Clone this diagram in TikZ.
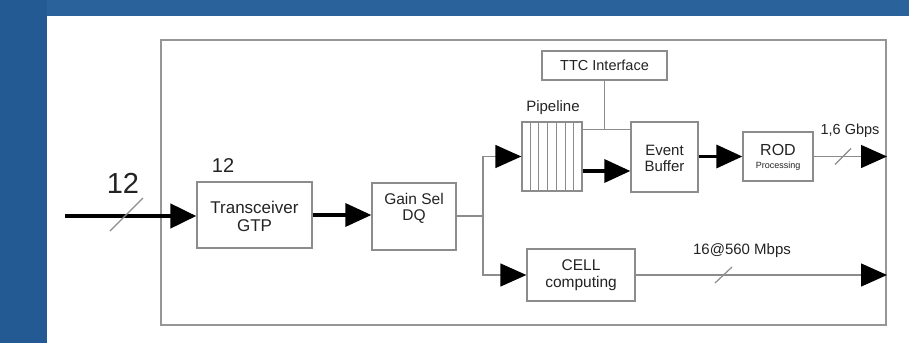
\documentclass[tikz,border=0pt]{standalone}
\usepackage{fontspec}
\setmainfont{Liberation Sans}
\usetikzlibrary{arrows.meta,calc}
\definecolor{bgblue}{RGB}{36,90,148}
\definecolor{bgtop}{RGB}{42,98,156}
\definecolor{linegray}{RGB}{140,140,140}
\definecolor{framegray}{RGB}{150,150,150}
\definecolor{txt}{RGB}{35,35,35}
\newcommand{\fs}[1]{\fontsize{#1}{#1}\selectfont}
\begin{document}
\begin{tikzpicture}[x=1pt,y=-1pt,
  box/.style={draw=linegray, line width=1.3pt, fill=white, inner sep=0pt},
  lbl/.style={text=txt, align=center, inner sep=0pt},
  thinln/.style={draw=linegray, line width=1.3pt},
  thickln/.style={draw=black, line width=3.5pt},
  head/.style={-{Triangle[length=26pt,width=23pt,color=black]}},
  slash/.style={draw=linegray, line width=1.2pt}]
\useasboundingbox (0,0) rectangle (909,343);
% background
\fill[bgblue] (0,0) rectangle (909,343);
\fill[bgtop] (47,0) rectangle (909,16);
\fill[white] (47,16) rectangle (909,343);
% frame
\node[draw=framegray, line width=2pt, minimum width=725pt, minimum height=285pt, inner sep=0pt] (frame) at (523.5,182.5) {};
% boxes
\node[box, minimum width=115pt, minimum height=66pt] (trx) at (254.5,215) {};
\node[lbl, font=\fs{17}] (trxt) at ([yshift=-1.5pt]trx.center) {Transceiver\\[1pt]GTP};
\node[box, minimum width=84pt, minimum height=67pt] (gain) at (414,216.5) {};
\node[lbl, font=\fs{15.5}] (gaint) at ([yshift=8pt]gain.center) {Gain Sel\\[1pt]DQ};
\node[box, minimum width=125pt, minimum height=29pt] (ttc) at (604.5,65.5) {};
\node[lbl, font=\fs{14.5}] (ttct) at (ttc.center) {TTC Interface};
\node[box, minimum width=60pt, minimum height=69pt] (pipe) at (552,156.5) {};
\foreach \k in {1,...,6}{
  \draw[linegray, line width=1pt] ($(pipe.north west)!\k/7!(pipe.north east)$) -- ($(pipe.south west)!\k/7!(pipe.south east)$);
}
\node[lbl, font=\fs{15}] (pipet) at (553,108) {Pipeline};
\node[box, minimum width=67pt, minimum height=70pt] (eb) at (664.5,157) {};
\node[lbl, font=\fs{15}] (ebt) at ([yshift=-1pt]eb.center) {Event\\[1pt]Buffer};
\node[box, minimum width=70pt, minimum height=49pt] (rod) at (778,156.5) {};
\node[lbl] (rodt) at ([yshift=-1pt]rod.center) {{\fs{16}ROD}\\[1pt]{\fs{9}Processing}};
\node[box, minimum width=108pt, minimum height=52pt] (cell) at (581,275) {};
\node[lbl, font=\fs{15.5}] (cellt) at (cell.center) {CELL\\[1pt]computing};
% labels
\node[lbl, font=\fs{29}] (n12a) at (123,183) {12};
\node[lbl, font=\fs{20}] (n12b) at (223,166) {12};
\node[lbl, font=\fs{14.5}] (gbps) at (850,131) {1,6 Gbps};
\node[lbl, font=\fs{15}] (mbps) at (742,251) {16@560 Mbps};
% coordinates
\coordinate (in) at (65,216);
\coordinate (split) at (483,216);
\coordinate (j) at ([yshift=-8pt]pipe.north east -| ttc.south);
\coordinate (out1) at (rod.east -| frame.east);
\coordinate (out2) at (cell.east -| frame.east);
% connectors
\draw[thickln, line width=4.5pt, -{Triangle[length=26pt,width=24pt,color=black]}] (in) -- (in -| trx.west);
\draw[slash] (110,231) -- (143,198);
\draw[thickln, head] (trx.east) -- (trx.east -| gain.west);
\draw[thinln] (gain.east |- split) -- (split);
\draw[thinln, head] (split) |- (pipe.west);
\draw[thinln, head] (split) |- (cell.west);
\draw[thickln, head] ([yshift=-14.5pt]pipe.east) -- ([yshift=-14.5pt]pipe.east -| eb.west);
\draw[thinln] ([yshift=-8pt]pipe.north east) -- ([yshift=-8pt]pipe.north east -| eb.west);
\draw[thinln] (ttc.south) -- (j);
\draw[thickln, head] (rod.west -| eb.east) -- (rod.west);
\draw[thinln, head] (rod.east) -- (out1);
\draw[slash] ($(rod.east)!0.4!(out1)$) ++(-8,8) -- ++(16,-16);
\draw[thinln, head] (cell.east) -- (out2);
\draw[slash] (715,283) -- (732,267);
\end{tikzpicture}
\end{document}
